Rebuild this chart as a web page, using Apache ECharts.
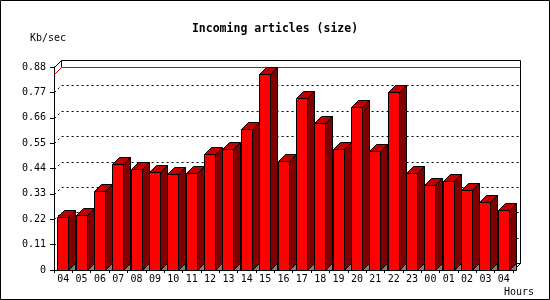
<!DOCTYPE html>
<html>
<head>
<meta charset="utf-8">
<script src="https://cdn.jsdelivr.net/npm/echarts@6/dist/echarts.min.js"></script>
<style>
html,body{margin:0;padding:0;background:#fff;}
#main{width:550px;height:300px;}
</style>
</head>
<body>
<div id="main"></div>
<script>
// hours of the day, oldest first
const hours = ['04','05','06','07','08','09','10','11','12','13','14','15','16',
               '17','18','19','20','21','22','23','00','01','02','03','04'];
// incoming size, Kb/sec
const kbPerSec = [0.228,0.238,0.341,0.458,0.438,0.423,0.415,0.419,0.501,0.523,0.610,0.848,0.471,
                  0.744,0.636,0.523,0.708,0.514,0.770,0.422,0.367,0.384,0.345,0.293,0.259];
const yTicks = [0,0.11,0.22,0.33,0.44,0.55,0.66,0.77,0.88];

const DEPTH = 7;
const FONT = 'DejaVu Sans Mono';
const maxVal = Math.max(...kbPerSec);

const chart = echarts.init(document.getElementById('main'));

// back wall, dotted grid and max line, shifted by the 3d depth
const renderWall = (params, api) => {
    const cs = params.coordSys;
    const d = DEPTH;
    const left = Math.round(cs.x) + 0.5;
    const right = Math.round(cs.x + cs.width) + 0.5;
    const yOf = v => Math.round(api.coord([0, v])[1]) + 0.5;
    const children = [];
    const topY = yOf(yTicks[yTicks.length - 1]);
    const baseY = yOf(0);

    yTicks.forEach(v => {
        if (v === 0) return;
        const y = yOf(v);
        const solid = v === yTicks[yTicks.length - 1];
        children.push({
            type: 'polyline',
            shape: {points: [[left, y], [left + d, y - d], [right + d, y - d]]},
            style: solid ? {stroke: '#000', lineWidth: 1, fill: null}
                         : {stroke: '#000', lineWidth: 1, lineDash: [2, 3], fill: null}
        });
    });
    // floor back edge + right edges
    children.push({
        type: 'polyline',
        shape: {points: [[left + d, baseY - d], [right + d, baseY - d]]},
        style: {stroke: '#000', lineWidth: 1, fill: null}
    });
    children.push({
        type: 'polyline',
        shape: {points: [[right + d, topY - d], [right + d, baseY - d], [right, baseY]]},
        style: {stroke: '#000', lineWidth: 1, fill: null}
    });
    // max line
    const ym = yOf(maxVal);
    children.push({
        type: 'polyline',
        shape: {points: [[left + d, topY - d], [left + d, ym - d]]},
        style: {stroke: '#000', lineWidth: 1, fill: null}
    });
    children.push({
        type: 'polyline',
        shape: {points: [[left, ym], [left + d, ym - d], [right + d, ym - d]]},
        style: {stroke: '#e00000', lineWidth: 1, fill: null}
    });
    return {type: 'group', children: children};
};

const renderBar = (params, api) => {
    const d = DEPTH;
    const w = 11;
    const base = api.coord([api.value(0), 0]);
    const top = api.coord([api.value(0), api.value(1)]);
    const x1 = Math.round(top[0]) - 6 + 0.5;
    const x2 = x1 + w;
    const yt = Math.round(top[1]) + 0.5;
    const yb = Math.round(base[1]) + 0.5;
    const edge = {stroke: '#000', lineWidth: 1};
    return {
        type: 'group',
        children: [
            {type: 'polygon', shape: {points: [[x2, yb], [x2 + d, yb - d], [x2 + d, yb]]},
             style: Object.assign({fill: '#808080'}, edge)},
            {type: 'polygon', shape: {points: [[x2, yt], [x2 + d, yt - d], [x2 + d, yb - d], [x2, yb]]},
             style: Object.assign({fill: '#800000'}, edge)},
            {type: 'polygon', shape: {points: [[x1, yt], [x1 + d, yt - d], [x2 + d, yt - d], [x2, yt]]},
             style: Object.assign({fill: '#c00000'}, edge)},
            {type: 'rect', shape: {x: x1, y: yt, width: w, height: yb - yt},
             style: Object.assign({fill: '#ff0000'}, edge)}
        ]
    };
};

chart.setOption({
    backgroundColor: '#fff',
    animation: false,
    title: {
        text: 'Incoming articles (size)',
        left: 'center',
        top: 18,
        textStyle: {fontFamily: FONT, fontSize: 11.5, fontWeight: 'bold', color: '#000', lineHeight: 12}
    },
    grid: {left: 54, top: 67, width: 459, height: 203},
    xAxis: {
        type: 'category',
        data: hours,
        boundaryGap: true,
        axisLine: {lineStyle: {color: '#000', width: 1}},
        axisTick: {show: true, length: 3, interval: 0, lineStyle: {color: '#000'}},
        axisLabel: {interval: 0, margin: 4, fontFamily: FONT, fontSize: 10, color: '#000'},
        splitLine: {show: false}
    },
    yAxis: {
        type: 'value',
        min: 0,
        max: 0.88,
        interval: 0.11,
        axisLine: {show: true, lineStyle: {color: '#000', width: 1}},
        axisTick: {show: true, length: 4, lineStyle: {color: '#000'}},
        axisLabel: {
            margin: 8, fontFamily: FONT, fontSize: 10, color: '#000',
            formatter: v => v === 0 ? '0' : v.toFixed(2)
        },
        splitLine: {show: false}
    },
    graphic: [
        {type: 'rect', shape: {x: 0.5, y: 0.5, width: 549, height: 299},
         style: {fill: null, stroke: '#000', lineWidth: 1}, z: 100},
        {type: 'text', left: 30, top: 33,
         style: {text: 'Kb/sec', font: '10px ' + FONT, fill: '#000'}},
        {type: 'text', left: 504, top: 287,
         style: {text: 'Hours', font: '10px ' + FONT, fill: '#000'}}
    ],
    series: [
        {
            type: 'custom',
            name: 'wall',
            renderItem: renderWall,
            data: [[0, 0]],
            silent: true,
            z: 1
        },
        {
            type: 'custom',
            name: 'size',
            renderItem: renderBar,
            encode: {x: 0, y: 1},
            data: kbPerSec.map((v, i) => [i, v]),
            z: 3
        }
    ]
});
</script>
</body>
</html>
